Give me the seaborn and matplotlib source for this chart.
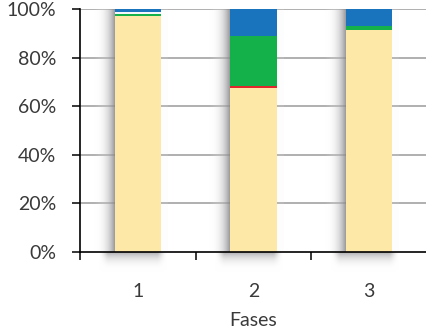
import numpy as np
import pandas as pd
import matplotlib
matplotlib.use("Agg")
import matplotlib.pyplot as plt
from matplotlib.colors import LinearSegmentedColormap
import seaborn as sns

# Data (percent of each phase)
fases = ["1", "2", "3"]
series = ["cream", "red", "green", "pale", "blue"]
cream = [97.1, 67.6, 91.4]
red = [0.0, 0.8, 0.0]
green = [0.9, 20.6, 1.8]
pale = [0.7, 0.0, 0.0]
blue = [1.3, 11.0, 6.8]
y_ticks = [0, 20, 40, 60, 80, 100]
y_labels = ["0%", "20%", "40%", "60%", "80%", "100%"]

colors = {
    "cream": "#fde8a8",
    "red": "#e3262b",
    "green": "#14b04a",
    "pale": "#f4f8fc",
    "blue": "#1a74bd",
}

df = pd.DataFrame({"fase": fases, "cream": cream, "red": red, "green": green,
                   "pale": pale, "blue": blue})
cum = df[series].cumsum(axis=1)

sns.set_style("white")
plt.rcParams["font.family"] = ["Lato", "DejaVu Sans"]

fig = plt.figure(figsize=(4.27, 3.34), dpi=100)
ax = fig.add_axes([0.187, 0.2455, 0.813, 0.7275])

bar_w = 0.4
half = bar_w / 2

# soft drop shadows behind the bars
shade = LinearSegmentedColormap.from_list("shade", [(1, 1, 1, 0), (0.45, 0.45, 0.47, 1.0)])
for i in range(len(fases)):
    # left side: dark next to the bar, fading out to the left
    left = np.linspace(0, 1, 60)[None, :] ** 1.4 * 0.85
    ax.imshow(left, extent=(i - half - 0.19, i - half, 0, 100), aspect="auto",
              cmap=shade, vmin=0, vmax=1, zorder=1, interpolation="bilinear")
    # below the axis: dark under the bar, fading downwards and to the sides
    rows = np.linspace(1, 0, 40)[:, None] ** 1.4
    xs = np.linspace(-1, 1, 60)[None, :]
    cols = np.clip(1.6 - 1.6 * np.abs(xs) ** 3, 0, 1)
    im = ax.imshow(rows * cols * 0.75, extent=(i - half - 0.14, i + half + 0.06, -8.5, 0),
                   aspect="auto", cmap=shade, vmin=0, vmax=1, zorder=1,
                   origin="upper", interpolation="bilinear")
    im.set_clip_on(False)
    # faint strip on the right edge
    ax.imshow(np.full((2, 2), 0.1), extent=(i + half, i + half + 0.06, 0, 100),
              aspect="auto", cmap=shade, vmin=0, vmax=1, zorder=1)

# stacked bars, drawn from the top segment down
for s in reversed(series):
    sns.barplot(x=df["fase"], y=cum[s], color=colors[s], width=bar_w,
                saturation=1, linewidth=0, ax=ax, zorder=3)

ax.set_xlim(-0.5, 2.5)
ax.set_ylim(0, 100)
ax.set_yticks(y_ticks)
ax.set_yticklabels(y_labels)
ax.set_xticks(range(len(fases)))
ax.set_xticklabels(fases)
ax.set_xticks([-0.5, 0.5, 1.5], minor=True)

for y in y_ticks[1:]:
    ax.axhline(y, color="#9a9a9a", lw=1.1, zorder=0)

for side in ["top", "right"]:
    ax.spines[side].set_visible(False)
for side in ["left", "bottom"]:
    ax.spines[side].set_color("black")
    ax.spines[side].set_linewidth(1.2)
ax.spines["bottom"].set_zorder(5)

ax.tick_params(axis="y", which="major", direction="out", length=6, width=1.1,
               color="black", left=True, labelsize=14, labelcolor="#3a3a3a", pad=11)
ax.tick_params(axis="x", which="major", length=0, labelsize=14,
               labelcolor="#3a3a3a", pad=22)
ax.tick_params(axis="x", which="minor", direction="out", length=6, width=1.1,
               color="black", bottom=True)

ax.set_ylabel("")
ax.set_xlabel("Fases", fontsize=14, color="#3a3a3a", labelpad=9)

fig.savefig("out.png", dpi=100)
